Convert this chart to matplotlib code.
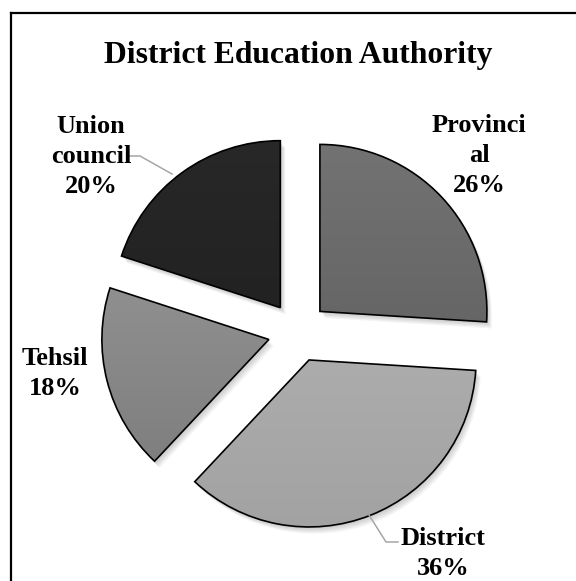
import numpy as np
import matplotlib
matplotlib.use("Agg")
import matplotlib.pyplot as plt
from matplotlib.patches import Wedge
from matplotlib.lines import Line2D
from matplotlib.colors import to_rgb

# Share of schools by education authority
categories = ["Provincial", "District", "Tehsil", "Union council"]
shares = [26, 36, 18, 20]
label_texts = ["Provinci\nal\n26%", "District\n36%", "Tehsil\n18%", "Union\ncouncil\n20%"]

# vertical gradient (top colour, bottom colour) for each slice
grad_top = ["#737373", "#b6b6b6", "#9b9b9b", "#282828"]
grad_bot = ["#5a5a5a", "#a2a2a2", "#7a7a7a", "#1c1c1c"]

explode_dist = 0.18
W, H = 576, 581
fig = plt.figure(figsize=(W / 100, H / 100), dpi=100)
ax = fig.add_axes([0, 0, 1, 1])
ax.axis("off")

# pixel scale: centre of pie at (298, 332) px, radius 167 px
cx_px, cy_px, r_px = 298, 332, 167
xlim = (-cx_px / r_px, (W - cx_px) / r_px)
ylim = ((cy_px - H) / r_px, cy_px / r_px)

wedges, _ = ax.pie(shares, startangle=90, counterclock=False,
                   explode=[explode_dist] * len(shares),
                   colors=grad_top,
                   wedgeprops=dict(edgecolor="black", linewidth=1.2))

# soft drop shadows beneath each slice
for w in wedges:
    for k in range(1, 6):
        sh = Wedge((w.center[0] + 0.006 * k, w.center[1] - 0.008 * k), w.r,
                   w.theta1, w.theta2, facecolor="black", edgecolor="none",
                   alpha=0.045, zorder=1)
        ax.add_patch(sh)

# gradient fills clipped to the slices
for w, ct, cb in zip(wedges, grad_top, grad_bot):
    w.set_zorder(4)
    w.set_facecolor("none")
    x0, y0 = w.center[0] - 1.05, w.center[1] - 1.05
    x1, y1 = w.center[0] + 1.05, w.center[1] + 1.05
    t = np.linspace(0, 1, 256)[:, None]
    top, bot = np.array(to_rgb(ct)), np.array(to_rgb(cb))
    img = top[None, None, :] * (1 - t[..., None]) + bot[None, None, :] * t[..., None]
    img = np.repeat(img, 2, axis=1)
    im = ax.imshow(img, extent=(x0, x1, y0, y1), origin="upper",
                   interpolation="bilinear", zorder=3)
    im.set_clip_path(w)

ax.set_xlim(*xlim)
ax.set_ylim(*ylim)
ax.set_aspect("auto")

font = dict(family="Liberation Serif", fontweight="bold")

def px(x, y):
    return ((x - cx_px) / r_px, (cy_px - y) / r_px)

# label anchors: horizontal centre and baseline of the last line
label_pos = [px(479, 192), px(443, 575), px(55, 395), px(91, 193)]
for txt, (lx, ly) in zip(label_texts, label_pos):
    ax.text(lx, ly, txt, ha="center", va="baseline", fontsize=19,
            linespacing=1.38, color="black", zorder=6,
            multialignment="center", **font)

# leader lines
lead_col = "#a6a6a6"
ux, uy = zip(px(129, 156), px(140, 156), px(172, 174))
ax.plot(ux, uy, color=lead_col, lw=1.1, zorder=5)
dx, dy = zip(px(369, 515), px(386, 542), px(398, 542))
ax.plot(dx, dy, color=lead_col, lw=1.1, zorder=5)

fig.text(298 / W, 1 - 63 / H, "District Education Authority", ha="center",
         va="baseline", fontsize=22.8, **font)

# chart frame
fig.add_artist(Line2D([11 / W, 11 / W], [0, 1 - 13 / H], color="black", lw=1.6,
                      transform=fig.transFigure))
fig.add_artist(Line2D([11 / W, 1], [1 - 13 / H, 1 - 13 / H], color="black", lw=1.6,
                      transform=fig.transFigure))

fig.savefig("out.png", dpi=100, facecolor="white")
